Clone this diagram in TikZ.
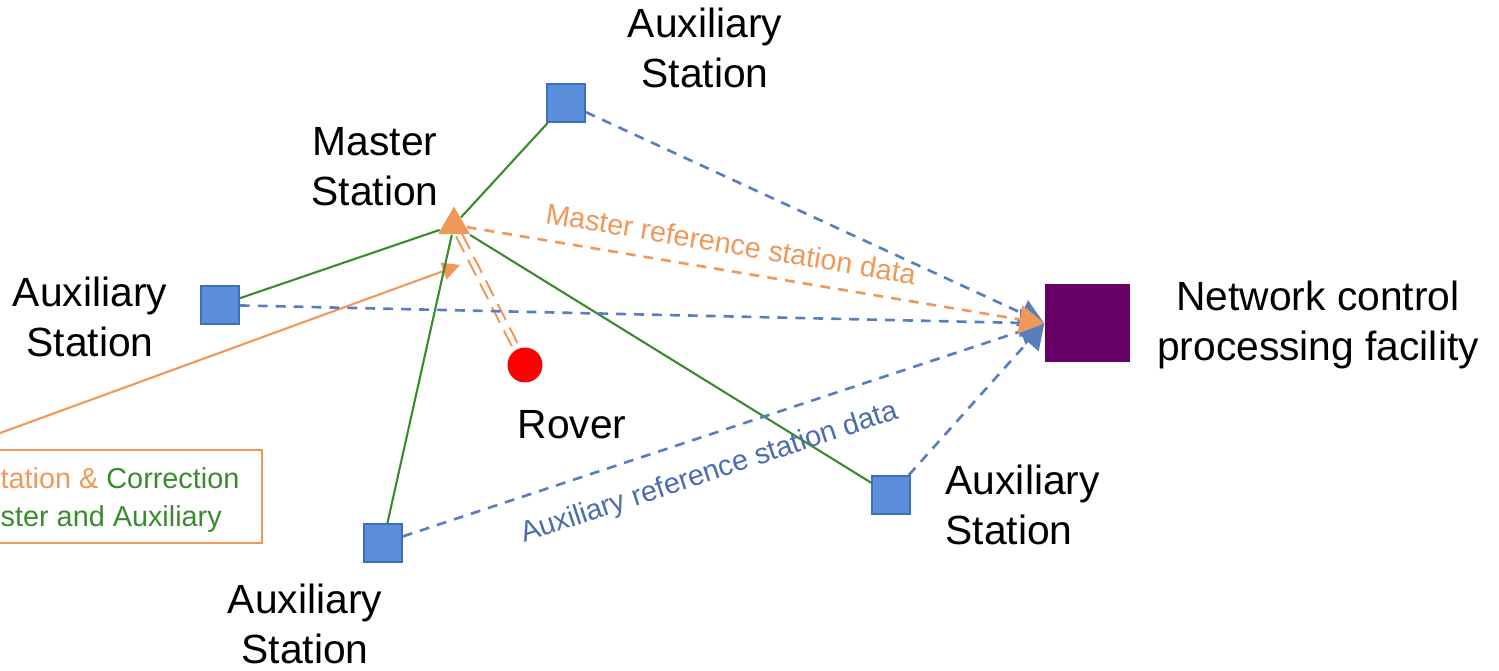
\documentclass[tikz,border=0pt]{standalone}
\usepackage{fontspec}
\setmainfont{Liberation Sans}
\usetikzlibrary{shapes.geometric,arrows.meta}
\definecolor{auxblue}{HTML}{5B8FDB}
\definecolor{auxedge}{HTML}{3F6FB8}
\definecolor{dashblue}{HTML}{5A7EBD}
\definecolor{txtblue}{HTML}{4A6CB0}
\definecolor{mstorange}{HTML}{F0975A}
\definecolor{lnkgreen}{HTML}{3A8A2E}
\definecolor{netpurple}{HTML}{660066}

\begin{document}
\begin{tikzpicture}[
  aux/.style={draw=auxedge,fill=auxblue,minimum size=0.38cm,inner sep=0,line width=0.5pt},
  biglbl/.style={align=center,font=\fontsize{11.6}{14.2}\selectfont},
  smllbl/.style={font=\fontsize{8.2}{10}\selectfont},
  greenlink/.style={lnkgreen,line width=0.6pt},
  bluedata/.style={dashblue,line width=0.75pt,dash pattern=on 2.8pt off 2.3pt,-{Triangle[width=8pt,length=7pt]}},
  orgdata/.style={mstorange,line width=0.75pt,dash pattern=on 2.8pt off 2.3pt,-{Triangle[width=8pt,length=7pt]}}]
\useasboundingbox (0,0) rectangle (14.99,6.70);
\clip (0,0) rectangle (14.99,6.70);

\node[aux] (auxT) at (5.66,5.67) {};
\node[aux] (auxL) at (2.20,3.65) {};
\node[aux] (auxR) at (8.91,1.75) {};
\node[aux] (auxB) at (3.83,1.27) {};
\node[regular polygon,regular polygon sides=3,fill=mstorange,minimum size=0.37cm,inner sep=0] (master) at (4.54,4.45) {};
\node[circle,fill=red,minimum size=0.35cm,inner sep=0] (rover) at (5.25,3.05) {};
\node[fill=netpurple,minimum width=0.85cm,minimum height=0.78cm,inner sep=0] (netc) at (10.875,3.465) {};

\node[biglbl] (auxTlbl) at (7.05,6.22) {Auxiliary\\Station};
\node[biglbl] (mstlbl) at (3.75,5.03) {Master\\Station};
\node[biglbl] (auxLlbl) at (0.90,3.53) {Auxiliary\\Station};
\node[biglbl] (netlbl) at (13.18,3.45) {Network control\\processing facility};
\node[biglbl] (rovlbl) at (5.72,2.45) {Rover};
\node[biglbl,align=left,anchor=west,inner sep=0] (auxRlbl) at (9.45,1.65) {Auxiliary\\Station};
\node[biglbl] (auxBlbl) at (3.05,0.46) {Auxiliary\\Station};

% correction box, cut by the left edge
\draw[mstorange,line width=0.6pt] (-1.5,1.27) rectangle (2.62,2.20);
\node[smllbl,anchor=west,align=left,inner sep=0] (boxtxt) at (0,1.70)
  {\textcolor{mstorange}{tation \&} \textcolor{lnkgreen}{Correction}\\[1pt]\textcolor{lnkgreen}{ster and Auxiliary}};
\coordinate (boxsrc) at (-0.3,2.26);
\draw[mstorange,line width=0.6pt,-{Triangle[width=5pt,length=5pt]}] (boxsrc) -- (4.60,4.05);

\draw[greenlink] (master) -- (auxT);
\draw[greenlink] (master) -- (auxL);
\draw[greenlink] (master) -- (auxB);
\draw[greenlink] (master) -- (auxR);

\draw[mstorange,line width=0.6pt,dash pattern=on 5pt off 2.5pt,double=white,double distance=1.2pt] (master) -- (rover);

\draw[bluedata] (auxT) -- (netc.west);
\draw[bluedata] (auxL) -- (netc.west);
\draw[bluedata] (auxR) -- (netc.west);
\draw[bluedata] (auxB) -- (netc.west)
  node[smllbl,txtblue,sloped,below=3pt,pos=0.46] {Auxiliary reference station data};
\draw[orgdata] (master) -- (netc.west)
  node[smllbl,mstorange,sloped,above=1pt,pos=0.45] {Master reference station data};
\end{tikzpicture}
\end{document}
